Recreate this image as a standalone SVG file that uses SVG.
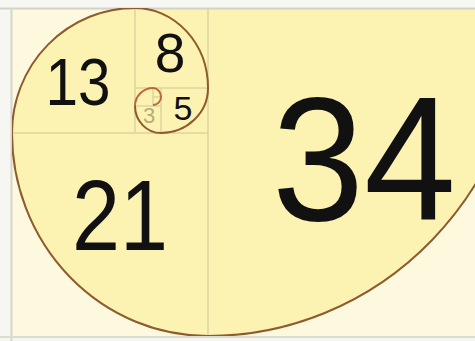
<svg xmlns="http://www.w3.org/2000/svg" width="475" height="341" viewBox="0 0 475 341">
<style>
.grid{stroke:#ddd3a0;stroke-width:1.5;fill:none}
.spiral{stroke:#8e5a2e;stroke-width:2;fill:none}
.num{font-family:"Liberation Sans",Arial,sans-serif;fill:#111;text-anchor:middle}
</style>
<defs>
<clipPath id="frame"><rect x="12" y="8" width="470" height="328"/></clipPath>
</defs>
<rect x="0" y="0" width="475" height="341" fill="#f6f6f2"/>
<g id="background" clip-path="url(#frame)">
<rect x="12" y="8" width="470" height="328" fill="#fdf9de"/>
<path d="M525 8 A317 328 0 0 1 208 336 A196 203 0 0 1 12 133 A123 125 0 0 1 135 8 Z" fill="#fcf3b3"/>
</g>
<line x1="0" y1="8.5" x2="475" y2="8.5" stroke="#d2d2c8" stroke-width="2"/>
<line x1="11.5" y1="8" x2="11.5" y2="341" stroke="#d6d6cc" stroke-width="2"/>
<line x1="0" y1="337" x2="475" y2="337" stroke="#dcdcd0" stroke-width="2"/>
<g id="grid">
<line class="grid" x1="208" y1="8" x2="208" y2="336"/>
<line class="grid" x1="135" y1="8" x2="135" y2="133"/>
<line class="grid" x1="12" y1="133" x2="208" y2="133"/>
<line class="grid" x1="135" y1="88" x2="208" y2="88"/>
<line class="grid" x1="161" y1="88" x2="161" y2="133"/>
<line class="grid" x1="135" y1="106" x2="161" y2="106"/>
<line class="grid" x1="153" y1="88" x2="153" y2="106"/>
<line class="grid" x1="153" y1="97" x2="161" y2="97"/>
</g>
<g id="connectors" clip-path="url(#frame)">
<path class="spiral" d="M525 8 A317 328 0 0 1 208 336 A196 203 0 0 1 12 133 A123 125 0 0 1 135 8 A73 80 0 0 1 208 88 A47 45 0 0 1 161 133 A26 27 0 0 1 135 106"/>
<path d="M135 106 A18 18 0 0 1 153 88 A8 9 0 0 1 161 97 A8 8 0 0 1 153 105" fill="none" stroke="#c0643c" stroke-width="2"/>
</g>
<g id="n34"><text class="num" x="364" y="220" font-size="176" textLength="184" lengthAdjust="spacingAndGlyphs">34</text></g>
<g id="n21"><text class="num" x="120" y="250" font-size="101" textLength="96" lengthAdjust="spacingAndGlyphs">21</text></g>
<g id="n13"><text class="num" x="78" y="105" font-size="66" textLength="65" lengthAdjust="spacingAndGlyphs">13</text></g>
<g id="n8"><text class="num" x="170" y="72" font-size="55">8</text></g>
<g id="n5"><text class="num" x="183" y="120" font-size="34">5</text></g>
<g id="n3"><text class="num" x="149" y="123" font-size="22" style="fill:#b4ad7a">3</text></g>
</svg>
